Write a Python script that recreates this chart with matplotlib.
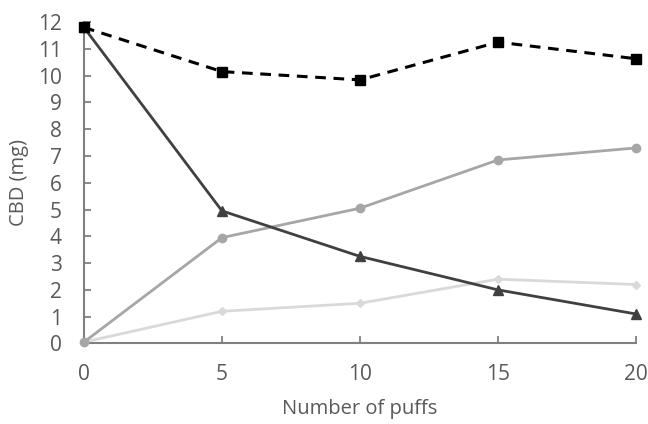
import matplotlib
matplotlib.use("Agg")
import matplotlib.pyplot as plt

plt.rcParams['font.family'] = ['Open Sans', 'DejaVu Sans']

puffs = [0, 5, 10, 15, 20]
total = [11.8, 10.15, 9.84, 11.25, 10.63]
remaining = [11.8, 4.95, 3.25, 2.0, 1.1]
series_circle = [0.05, 3.95, 5.05, 6.85, 7.3]
series_diamond = [0.05, 1.2, 1.5, 2.4, 2.2]
yticks = list(range(0, 13))
xticks = [0, 5, 10, 15, 20]

fig = plt.figure(figsize=(6.48, 4.24), dpi=100)
ax = fig.add_axes([0.1295, 0.19, 0.852, 0.758])

ax.plot(puffs, series_diamond, color='#d9d9d9', lw=2, marker='D', ms=4, clip_on=False, zorder=3)
ax.plot(puffs, series_circle, color='#a6a6a6', lw=2, marker='o', ms=6, clip_on=False, zorder=4)
ax.plot(puffs, remaining, color='#404040', lw=2, marker='^', ms=6.5, clip_on=False, zorder=5)
ax.plot(puffs, total, color='#000000', lw=2.2, ls=(0, (3.5, 2.5)), marker='s', ms=6.5, clip_on=False, zorder=6)

ax.set_xlim(0, 20)
ax.set_ylim(0, 12)
ax.set_xticks(xticks)
ax.set_yticks(yticks)
for s in ['top', 'right']:
    ax.spines[s].set_visible(False)
for s in ['left', 'bottom']:
    ax.spines[s].set_color('#808080')
    ax.spines[s].set_linewidth(1.5)
ax.tick_params(axis='both', direction='in', length=5, width=1.3, color='#808080',
               labelcolor='#595959', labelsize=15)
ax.tick_params(axis='x', pad=15)
ax.tick_params(axis='y', pad=16)
ax.set_xlabel('Number of puffs', fontsize=14.5, color='#595959', labelpad=10)
ax.set_ylabel('CBD (mg)', fontsize=14.5, color='#595959', labelpad=6)

fig.savefig('out.png', dpi=100, facecolor='white')
